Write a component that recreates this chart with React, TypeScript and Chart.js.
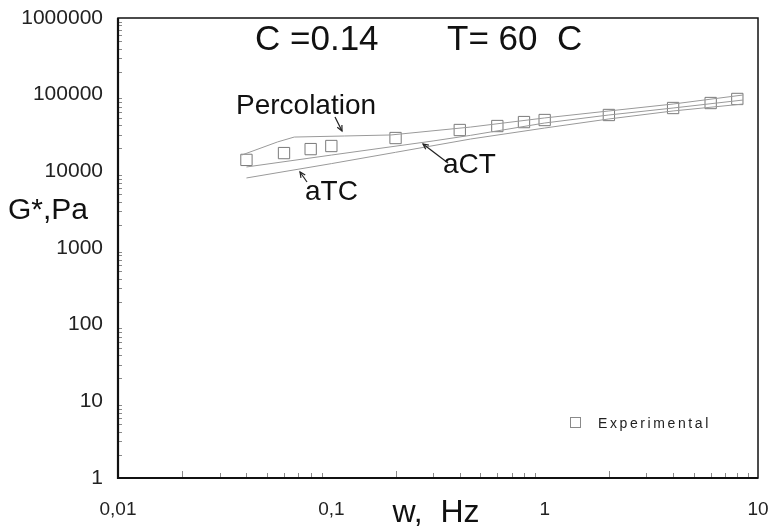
import React, { useEffect, useRef } from 'react';
import { Chart, registerables } from 'chart.js';

Chart.register(...registerables);

const FONT = "'Liberation Sans', Arial, Helvetica, sans-serif";

// Experimental G* (Pa) vs frequency (Hz)
const frequencies = [0.04, 0.06, 0.08, 0.1, 0.2, 0.4, 0.6, 0.8, 1, 2, 4, 6, 8];
const experimental = [14100, 17300, 19500, 21400, 27200, 34600, 39000, 43900, 46700, 54300, 67000, 77800, 87900];

// Model curves
const percolationFreq = [0.038, 0.056, 0.067, 0.115, 0.19, 0.45, 1, 2, 4, 8.5];
const percolation = [16300, 24200, 28000, 28900, 29800, 37800, 49700, 61300, 75500, 99000];

const actFreq = [0.04, 0.1, 0.3, 0.45, 1, 2, 4, 8.5];
const act = [11400, 16300, 24900, 29500, 42700, 54300, 67000, 85100];

const atcFreq = [0.04, 0.1, 0.2, 0.45, 1, 2, 4, 8.5];
const atc = [8190, 12600, 17700, 26400, 36700, 48200, 61300, 75500];

// Axis ticks
const xDecades = [0.01, 0.1, 1, 10];
const xDecadeLabels = ['0,01', '0,1', '1', '10'];
const yDecades = [1, 10, 100, 1000, 10000, 100000, 1000000];
const yDecadeLabels = ['1', '10', '100', '1000', '10000', '100000', '1000000'];
const minorMultipliers = [2, 3, 4, 5, 6, 7, 8, 9];

const titleLeft = 'C =0.14';
const titleRight = 'T= 60  C';
const yTitle = 'G*,Pa';
const xTitle = 'w,  Hz';
const legendLabel = 'Experimental';

function arrow(ctx: CanvasRenderingContext2D, x1: number, y1: number, x2: number, y2: number) {
  ctx.beginPath();
  ctx.moveTo(x1, y1);
  ctx.lineTo(x2, y2);
  ctx.stroke();
  const a = Math.atan2(y2 - y1, x2 - x1);
  const L = 6;
  ctx.beginPath();
  ctx.moveTo(x2 - L * Math.cos(a - 0.45), y2 - L * Math.sin(a - 0.45));
  ctx.lineTo(x2, y2);
  ctx.lineTo(x2 - L * Math.cos(a + 0.45), y2 - L * Math.sin(a + 0.45));
  ctx.stroke();
}

const decorPlugin = {
  id: 'decor',
  afterDraw(chart: any) {
    const { ctx, chartArea } = chart;
    const xs = chart.scales.x;
    const ys = chart.scales.y;
    const { left, right, top, bottom } = chartArea;
    ctx.save();

    // minor ticks inside the frame
    ctx.strokeStyle = '#8a8a8a';
    ctx.lineWidth = 1;
    for (const d of yDecades) {
      for (const m of minorMultipliers) {
        const v = d * m;
        if (v > 1000000) continue;
        const y = Math.round(ys.getPixelForValue(v)) + 0.5;
        ctx.beginPath();
        ctx.moveTo(left, y);
        ctx.lineTo(left + 4, y);
        ctx.stroke();
      }
    }
    for (const d of xDecades) {
      for (const m of minorMultipliers) {
        const v = d * m;
        if (v > 10) continue;
        const x = Math.round(xs.getPixelForValue(v)) + 0.5;
        ctx.beginPath();
        ctx.moveTo(x, bottom);
        ctx.lineTo(x, bottom - (m === 2 ? 7 : 5));
        ctx.stroke();
      }
    }

    // frame
    ctx.strokeStyle = '#111';
    ctx.lineWidth = 1.5;
    ctx.strokeRect(left, top, right - left, bottom - top);
    ctx.lineWidth = 2.2;
    ctx.beginPath();
    ctx.moveTo(left, top);
    ctx.lineTo(left, bottom);
    ctx.lineTo(right, bottom);
    ctx.stroke();

    // titles
    ctx.fillStyle = '#111';
    ctx.textBaseline = 'alphabetic';
    ctx.textAlign = 'left';
    ctx.font = `35px ${FONT}`;
    ctx.fillText(titleLeft, 255, 50);
    ctx.fillText(titleRight, 447, 50);

    ctx.font = `30px ${FONT}`;
    ctx.fillText(yTitle, 8, 219);

    ctx.textAlign = 'center';
    ctx.font = `32px ${FONT}`;
    ctx.fillText(xTitle, 436, 522);

    // annotations
    ctx.textAlign = 'left';
    ctx.font = `28px ${FONT}`;
    ctx.fillText('Percolation', 236, 114);
    ctx.font = `28px ${FONT}`;
    ctx.fillText('aTC', 305, 200);
    ctx.fillText('aCT', 443, 173);

    ctx.strokeStyle = '#222';
    ctx.lineWidth = 1.2;
    arrow(ctx, 335, 117, 342, 131);
    arrow(ctx, 448, 163, 423, 144);
    arrow(ctx, 307, 182, 300, 172);

    // legend
    ctx.strokeStyle = '#8a8a8a';
    ctx.lineWidth = 1;
    ctx.strokeRect(570.5, 417.5, 10, 10);
    ctx.fillStyle = '#222';
    ctx.font = `14px ${FONT}`;
    try { (ctx as any).letterSpacing = '2.6px'; } catch (e) {}
    ctx.fillText(legendLabel, 598, 428);
    try { (ctx as any).letterSpacing = '0px'; } catch (e) {}

    ctx.restore();
  },
};

export default function App() {
  const ref = useRef<HTMLCanvasElement | null>(null);

  useEffect(() => {
    if (!ref.current) return;
    const toXY = (xs: number[], ys: number[]) => xs.map((x, i) => ({ x, y: ys[i] }));
    const chart = new Chart(ref.current, {
      type: 'line',
      data: {
        datasets: [
          {
            label: 'Percolation',
            data: toXY(percolationFreq, percolation),
            borderColor: '#9a9a9a',
            borderWidth: 1,
            pointRadius: 0,
            fill: false,
            tension: 0,
          },
          {
            label: 'aCT',
            data: toXY(actFreq, act),
            borderColor: '#9a9a9a',
            borderWidth: 1,
            pointRadius: 0,
            fill: false,
            tension: 0,
          },
          {
            label: 'aTC',
            data: toXY(atcFreq, atc),
            borderColor: '#9a9a9a',
            borderWidth: 1,
            pointRadius: 0,
            fill: false,
            tension: 0,
          },
          {
            label: 'Experimental',
            data: toXY(frequencies, experimental),
            showLine: false,
            pointStyle: 'rect',
            pointRadius: 8,
            pointBorderWidth: 1,
            pointBorderColor: '#7a7a7a',
            pointBackgroundColor: 'rgba(0,0,0,0)',
          },
        ],
      } as any,
      options: {
        animation: false,
        responsive: false,
        events: [],
        layout: { padding: { top: 18, right: 10, left: 0, bottom: 0 } },
        plugins: { legend: { display: false }, tooltip: { enabled: false }, title: { display: false } },
        scales: {
          x: {
            type: 'logarithmic',
            min: 0.01,
            max: 10,
            afterBuildTicks: (s: any) => {
              s.ticks = xDecades.map((v) => ({ value: v }));
            },
            afterFit: (s: any) => {
              s.height = 49;
              s.paddingLeft = 0;
              s.paddingRight = 0;
            },
            grid: { display: false },
            border: { display: false },
            ticks: {
              autoSkip: false,
              maxRotation: 0,
              padding: 12,
              color: '#222',
              font: { family: FONT, size: 19 },
              callback: (v: any) => {
                const i = xDecades.indexOf(Number(v));
                return i >= 0 ? xDecadeLabels[i] : '';
              },
            },
          },
          y: {
            type: 'logarithmic',
            min: 1,
            max: 1000000,
            afterBuildTicks: (s: any) => {
              s.ticks = yDecades.map((v) => ({ value: v }));
            },
            afterFit: (s: any) => {
              s.width = 118;
              s.paddingTop = 0;
              s.paddingBottom = 0;
            },
            grid: { display: false },
            border: { display: false },
            ticks: {
              autoSkip: false,
              padding: 7,
              color: '#222',
              font: { family: FONT, size: 21 },
              callback: (v: any) => {
                const i = yDecades.indexOf(Number(v));
                return i >= 0 ? yDecadeLabels[i] : '';
              },
            },
          },
        },
      } as any,
      plugins: [decorPlugin],
    });
    return () => chart.destroy();
  }, []);

  return (
    <div style={{ position: 'absolute', left: 0, top: 0, width: 768, height: 527, background: '#fff' }}>
      <canvas ref={ref} width={768} height={527} style={{ display: 'block', width: 768, height: 527 }} />
    </div>
  );
}
